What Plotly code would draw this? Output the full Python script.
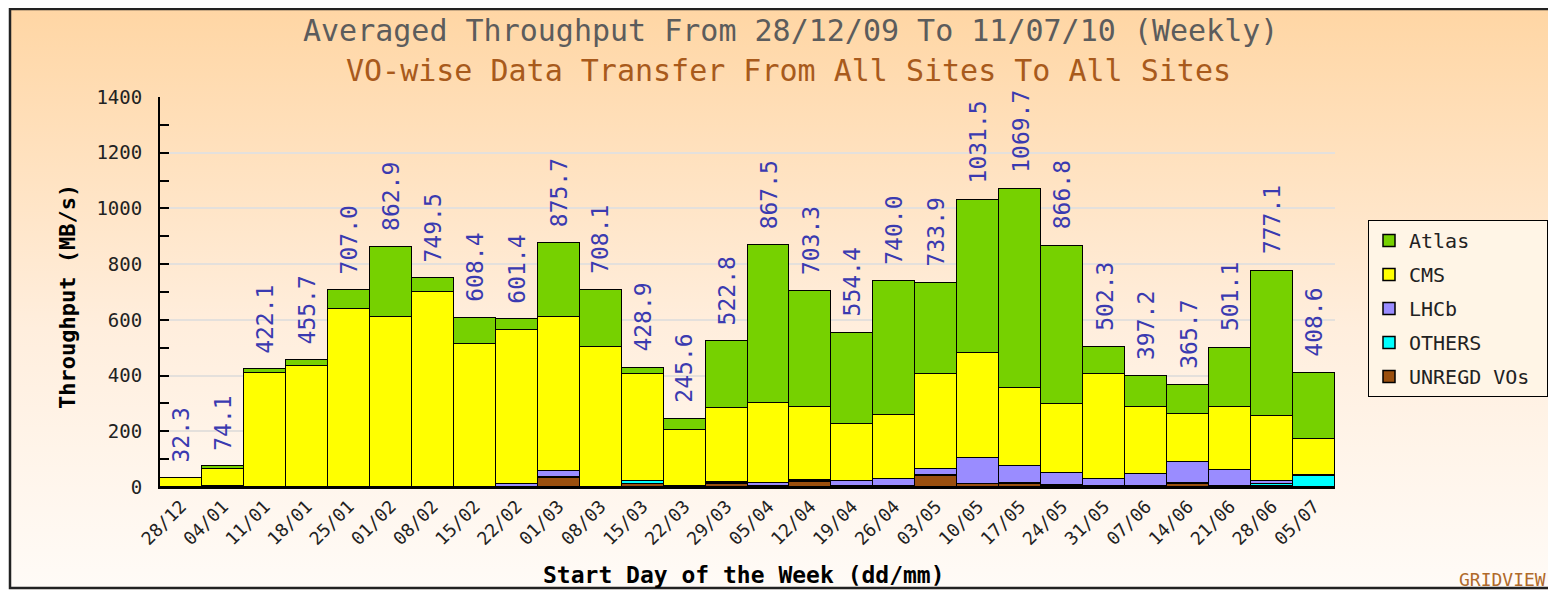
import base64
import plotly.graph_objects as go

weeks = ["28/12", "04/01", "11/01", "18/01", "25/01", "01/02", "08/02", "15/02", "22/02", "01/03",
         "08/03", "15/03", "22/03", "29/03", "05/04", "12/04", "19/04", "26/04", "03/05", "10/05",
         "17/05", "24/05", "31/05", "07/06", "14/06", "21/06", "28/06", "05/07"]
totals = [32.3, 74.1, 422.1, 455.7, 707.0, 862.9, 749.5, 608.4, 601.4, 875.7,
          708.1, 428.9, 245.6, 522.8, 867.5, 703.3, 554.4, 740.0, 733.9, 1031.5,
          1069.7, 866.8, 502.3, 397.2, 365.7, 501.1, 777.1, 408.6]
unregd = [1, 2, 1, 0.5, 0, 1, 1, 1, 1, 32, 1, 12, 3, 12, 3, 17, 3, 4, 40, 10,
          12, 5, 4, 4, 12, 4, 2, 0]
others = [0, 0, 0, 0, 0, 0, 0, 0, 0, 4, 0, 8, 0, 2, 1, 3, 1, 1, 3, 2,
          2, 1, 1, 1, 1, 1, 8, 38]
lhcb = [0, 0, 0, 0, 0, 0, 0, 0, 10, 20, 0, 0, 0, 4, 10, 5, 18, 25, 22, 93,
        60, 45, 25, 40, 75, 55, 10, 6]
cms = [30, 64, 408, 433, 639, 609, 699, 512, 552, 554, 501, 385, 202, 266, 288, 262, 204, 228, 340, 376,
       281, 247, 375, 242, 174, 226, 235, 130]
atlas = [1.3, 8.1, 13.1, 22.2, 68.0, 252.9, 49.5, 95.4, 38.4, 265.7, 206.1, 23.9, 40.6, 238.8, 565.5, 416.3,
         328.4, 482.0, 328.9, 550.5, 714.7, 568.8, 97.3, 110.2, 103.7, 214.1, 522.1, 234.6]

# page is 1556x598, body margin puts the figure at (8, 8)
W, H = 1556, 598
OFF = 8
FW, FH = W - 2 * OFF, H - 2 * OFF
L, R, T, B = 160, 1335, 97, 487          # plot area in page pixels
PW, PH = R - L, B - T
MONO = "DejaVu Sans Mono"


def px(x):
    return (x - L) / PW


def py(y):
    return (B - y) / PH


series = [
    ("UNREGD VOs\u00a0", unregd, "#9A4F0E", 5),
    ("OTHERS", others, "#00FFFF", 4),
    ("LHCb", lhcb, "#9A8CFF", 3),
    ("CMS", cms, "#FFFF00", 2),
    ("Atlas", atlas, "#76D100", 1),
]

fig = go.Figure()
for name, vals, color, rank in series:
    fig.add_trace(go.Bar(x=weeks, y=vals, name=name, legendgroup=name, legendrank=rank,
                         marker=dict(color=color, line=dict(color="black", width=1.5))))

for w, t in zip(weeks, totals):
    fig.add_annotation(x=w, y=t, text=f"{t:.1f}", textangle=-90, showarrow=False,
                       yanchor="bottom", yshift=14, font=dict(family=MONO, size=23, color="#3A3AB0"))

# gradient background behind everything
svg = ('<svg xmlns="http://www.w3.org/2000/svg" width="100" height="100" preserveAspectRatio="none">'
       '<defs><linearGradient id="g" x1="0" y1="0" x2="0" y2="1">'
       '<stop offset="0" stop-color="#FFD6A4"/><stop offset="0.55" stop-color="#FFEEDD"/>'
       '<stop offset="1" stop-color="#FFFBF7"/></linearGradient></defs>'
       '<rect width="100" height="100" fill="url(#g)"/></svg>')
src = "data:image/svg+xml;base64," + base64.b64encode(svg.encode()).decode()
fig.add_layout_image(source=src, xref="paper", yref="paper", x=px(10), y=py(OFF),
                     sizex=(OFF + FW - 10) / PW, sizey=(OFF + FH - OFF) / PH, sizing="stretch",
                     xanchor="left", yanchor="top", layer="below")

fig.add_shape(type="rect", xref="paper", yref="paper", x0=px(10), x1=px(OFF + FW + 5), y0=py(OFF + FH - 2),
              y1=py(OFF + 1), line=dict(color="#222222", width=2.5))

fig.add_annotation(text="Averaged Throughput From 28/12/09 To 11/07/10 (Weekly)", xref="paper", yref="paper",
                   x=px(790), y=py(31), yanchor="middle", showarrow=False,
                   font=dict(family=MONO, size=30, color="#5C5C5C"))
fig.add_annotation(text="VO-wise Data Transfer From All Sites To All Sites", xref="paper", yref="paper",
                   x=px(789), y=py(70), yanchor="middle", showarrow=False,
                   font=dict(family=MONO, size=30, color="#A85A1C"))
fig.add_annotation(text="GRIDVIEW", xref="paper", yref="paper", x=px(1548), y=py(579), xanchor="right",
                   yanchor="middle", showarrow=False, font=dict(family=MONO, size=18, color="#B06A2A"))

# axis titles
fig.add_annotation(text="<b>Start Day of the Week (dd/mm)</b>", xref="paper", yref="paper",
                   x=px(744), y=py(575), yanchor="middle", showarrow=False,
                   font=dict(family=MONO, size=23, color="black"))
fig.add_annotation(text="<b>Throughput (MB/s)</b>", xref="paper", yref="paper", textangle=-90,
                   x=px(67), y=py(297), xanchor="center", yanchor="middle", showarrow=False,
                   font=dict(family=MONO, size=22, color="black"))

fig.update_layout(
    width=FW, height=FH,
    margin=dict(l=L - OFF, r=OFF + FW - R, t=T - OFF, b=OFF + FH - B, autoexpand=False),
    barmode="stack", bargap=0,
    paper_bgcolor="white", plot_bgcolor="rgba(0,0,0,0)",
    showlegend=True,
    legend=dict(xref="container", yref="container", x=(1368 - OFF) / FW, y=1 - (220 - OFF) / FH,
                xanchor="left", yanchor="top",
                bgcolor="#FFF5E6", bordercolor="black", borderwidth=1,
                font=dict(family=MONO, size=20, color="#222222"), tracegroupgap=5),
)
fig.update_xaxes(type="category", range=[-0.5, 27.5], tickangle=-45, showline=True, linecolor="black",
                 linewidth=2, ticks="", automargin=False, tickfont=dict(family=MONO, size=18, color="#222222"))
fig.update_yaxes(range=[0, 1400], dtick=200, showline=True, linecolor="black", linewidth=2,
                 ticks="inside", ticklen=9, tickwidth=2, tickcolor="black", automargin=False,
                 minor=dict(dtick=100, ticks="inside", ticklen=9, tickwidth=2, tickcolor="black", showgrid=False),
                 showgrid=True, gridcolor="#E4E0DC", gridwidth=2, zeroline=False,
                 ticklabelstandoff=12, tickfont=dict(family=MONO, size=19, color="#222222"))

fig.write_html("out.html")
